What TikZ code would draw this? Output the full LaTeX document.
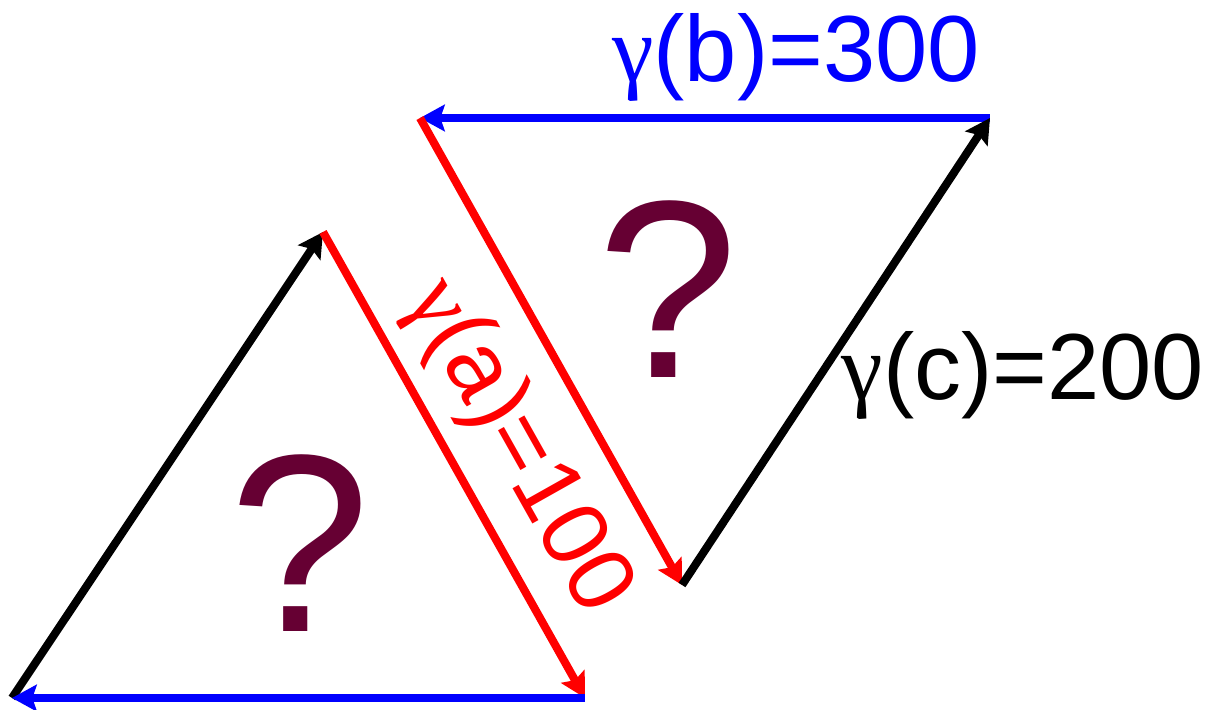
\documentclass[tikz,border=0pt]{standalone}
\usepackage{fontspec}
\setmainfont{Liberation Sans}
\newfontfamily\greekserif{Liberation Serif}
\usetikzlibrary{arrows.meta}
\definecolor{qmark}{HTML}{660033}
\definecolor{gred}{HTML}{FF0000}
\definecolor{gblue}{HTML}{0000FF}

\begin{document}
\begin{tikzpicture}[
        x=0.01cm, y=-0.01cm,
        edge/.style={-{Stealth[length=7pt, width=7.5pt, inset=1.2pt]}, line width=2.3pt},
        qnode/.style={text=qmark, inner sep=0pt, anchor=base, font=\fontsize{72}{72}\selectfont},
        weight/.style={inner sep=0pt, font=\fontsize{26.7}{26.7}\selectfont}
    ]
    \useasboundingbox (0,0) rectangle (1212,710);

    % Lower triangle
    \coordinate (LowLeft) at (12,698);
    \coordinate (LowTop) at (323,232);
    \coordinate (LowRight) at (585,698);

    % Upper triangle
    \coordinate (UpLeft) at (420,118);
    \coordinate (UpRight) at (990,118);
    \coordinate (UpBottom) at (682,585);

    % Edges
    \draw [edge, black] (LowLeft) -- (LowTop);
    \draw [edge, gred] (LowTop) -- (LowRight);
    \draw [edge, gblue] (LowRight) -- (LowLeft);

    \draw [edge, gblue] (UpRight) -- (UpLeft);
    \draw [edge, gred] (UpLeft) -- (UpBottom);
    \draw [edge, black] (UpBottom) -- (UpRight);

    % Weights
    \node (WeightB) [weight, anchor=base, text=gblue] at (796,82) {{\greekserif γ}(b)=300};
    \node (WeightC) [weight, anchor=base, text=black] at (1023,400) {{\greekserif γ}(c)=200};
    \node (WeightA) [weight, rotate=-60.65, text=gred] at (517,447) {{\greekserif γ}(a)=100};

    % Unknown triangles
    \node (QUp) [qnode] at (668,378) {?};
    \node (QLow) [qnode] at (300,632) {?};

    \end{tikzpicture}
\end{document}
